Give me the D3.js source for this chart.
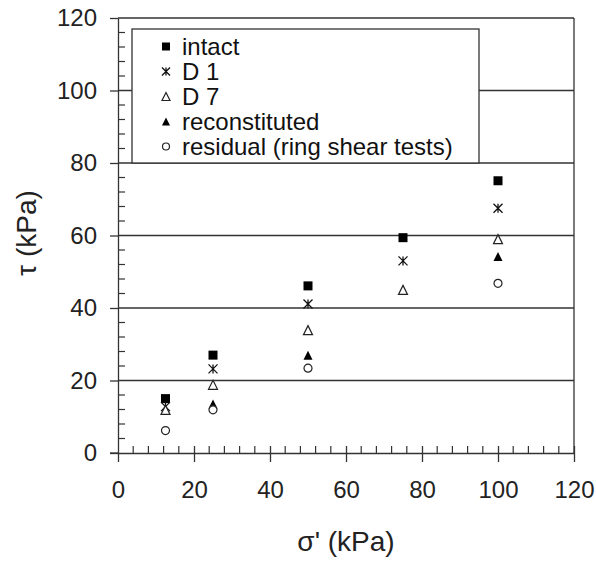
<!DOCTYPE html>
<html>
<head>
<meta charset="utf-8">
<script src="https://cdn.jsdelivr.net/npm/d3@7"></script>
<style>
  body { margin: 0; background: #fff; }
  svg { font-family: Arial, "Liberation Sans", sans-serif; }
</style>
</head>
<body>
<div id="chart"></div>
<script>
const stress = [12.5, 25, 50, 75, 100];
const intact = [15, 27, 46.1, 59.4, 75.1];
const d1 = [12.8, 23.2, 41.1, 53, 67.5];
const d7 = [11.9, 18.8, 33.9, 45, 59];
const reconstituted = [null, 13.5, 27, null, 54.2];
const residual = [6.2, 11.9, 23.4, null, 46.8];
const seriesNames = ["intact", "D 1", "D 7", "reconstituted", "residual (ring shear tests)"];
const xTicks = [0, 20, 40, 60, 80, 100, 120];
const yTicks = [0, 20, 40, 60, 80, 100, 120];

const width = 596, height = 562;
const plotLeft = 118, plotRight = 574, plotTop = 18, plotBottom = 453;
const ink = "#333";

const svg = d3.select("#chart").append("svg")
  .attr("width", width).attr("height", height);

const x = d3.scaleLinear().domain([0, 120]).range([plotLeft, plotRight]);
const y = d3.scaleLinear().domain([0, 120]).range([plotBottom, plotTop]);

const minor = d3.range(0, 121, 4).filter(v => v % 20 !== 0);

// gridlines
svg.append("g").selectAll("line")
  .data(yTicks.filter(v => v > 0))
  .enter().append("line")
  .attr("x1", plotLeft).attr("x2", plotRight)
  .attr("y1", d => y(d)).attr("y2", d => y(d))
  .attr("stroke", ink).attr("stroke-width", 1.3);

// right border
svg.append("line")
  .attr("x1", plotRight).attr("x2", plotRight).attr("y1", plotTop).attr("y2", plotBottom)
  .attr("stroke", ink).attr("stroke-width", 1.3);

// minor ticks
svg.append("g").selectAll("line").data(minor).enter().append("line")
  .attr("x1", d => x(d)).attr("x2", d => x(d))
  .attr("y1", plotBottom).attr("y2", plotBottom - 7)
  .attr("stroke", ink).attr("stroke-width", 1.2);
svg.append("g").selectAll("line").data(minor).enter().append("line")
  .attr("x1", plotLeft).attr("x2", plotLeft + 7)
  .attr("y1", d => y(d)).attr("y2", d => y(d))
  .attr("stroke", ink).attr("stroke-width", 1.2);

const xAxis = d3.axisBottom(x).tickValues(xTicks).tickSize(9).tickPadding(19).tickSizeOuter(0);
const yAxis = d3.axisLeft(y).tickValues(yTicks).tickSize(8).tickPadding(13).tickSizeOuter(0);

const gx = svg.append("g").attr("transform", `translate(0,${plotBottom})`).call(xAxis);
const gy = svg.append("g").attr("transform", `translate(${plotLeft},0)`).call(yAxis);

[gx, gy].forEach(g => {
  g.select(".domain").attr("stroke", ink).attr("stroke-width", 1.3);
  g.selectAll(".tick line").attr("stroke", ink).attr("stroke-width", 1.3);
  g.selectAll(".tick text").attr("fill", "#222").attr("font-size", 24)
    .attr("font-family", "Arial, 'Liberation Sans', sans-serif");
});
// x axis extends a bit left of the y axis
gx.append("line").attr("x1", plotLeft - 8).attr("x2", plotLeft).attr("y1", 0).attr("y2", 0)
  .attr("stroke", ink).attr("stroke-width", 1.3);
// major x ticks cross the axis
gx.selectAll(".tick").filter(d => d > 0).append("line")
  .attr("y1", 0).attr("y2", -7).attr("stroke", ink).attr("stroke-width", 1.3);

// axis titles
svg.append("text")
  .attr("x", x(60)).attr("y", 551)
  .attr("text-anchor", "middle").attr("font-size", 28).attr("fill", "#222")
  .text("σ' (kPa)");
svg.append("text")
  .attr("transform", `translate(36,233) rotate(-90)`)
  .attr("text-anchor", "middle").attr("font-size", 28).attr("fill", "#222")
  .text("τ (kPa)");

// markers
const symbols = {
  square: (g, s) => g.append("rect").attr("x", -s / 2).attr("y", -s / 2)
    .attr("width", s).attr("height", s).attr("fill", "#000"),
  star: (g, s) => g.append("path")
    .attr("d", `M${-s / 2},${-s / 2}L${s / 2},${s / 2}M${s / 2},${-s / 2}L${-s / 2},${s / 2}M0,${-s / 2}L0,${s / 2}`)
    .attr("stroke", "#111").attr("stroke-width", 1.3).attr("fill", "none"),
  triOpen: (g, s) => g.append("path")
    .attr("d", `M0,${-s / 2}L${s / 2},${s / 2}L${-s / 2},${s / 2}Z`)
    .attr("fill", "#fff").attr("stroke", "#222").attr("stroke-width", 1.2),
  triFill: (g, s) => g.append("path")
    .attr("d", `M0,${-s / 2}L${s / 2},${s / 2}L${-s / 2},${s / 2}Z`)
    .attr("fill", "#000"),
  circle: (g, s) => g.append("circle").attr("r", s / 2 - 0.5)
    .attr("fill", "#fff").attr("stroke", "#222").attr("stroke-width", 1.2)
};

const series = [
  { values: intact, sym: "square", size: 9 },
  { values: d1, sym: "star", size: 9 },
  { values: d7, sym: "triOpen", size: 9 },
  { values: reconstituted, sym: "triFill", size: 9 },
  { values: residual, sym: "circle", size: 9 }
];

series.forEach(s => {
  const pts = stress.map((v, i) => [v, s.values[i]]).filter(p => p[1] != null);
  svg.append("g").selectAll("g").data(pts).enter().append("g")
    .attr("transform", d => `translate(${x(d[0])},${y(d[1])})`)
    .each(function () { symbols[s.sym](d3.select(this), s.size); });
});

// legend
const lg = svg.append("g");
lg.append("rect")
  .attr("x", 132).attr("y", 29).attr("width", 347).attr("height", 134)
  .attr("fill", "#fff").attr("stroke", ink).attr("stroke-width", 1.3);
seriesNames.forEach((name, i) => {
  const cy = 46.5 + i * 25;
  const g = lg.append("g").attr("transform", `translate(166,${cy})`);
  symbols[series[i].sym](g, 8);
  lg.append("text").attr("x", 182).attr("y", cy + 8.5)
    .attr("font-size", 24).attr("fill", "#111").text(name);
});
</script>
</body>
</html>
